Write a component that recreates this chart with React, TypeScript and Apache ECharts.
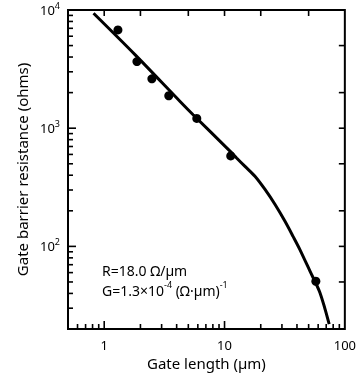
import React, { useEffect, useRef } from 'react';
import * as echarts from 'echarts';

// Fitted curve
const curveX = [0.815, 1.81, 4.27, 5.48, 11.1, 12.6, 14.8, 17.9, 21.7, 26.3, 31.8, 37.2, 42.3, 51.2, 62.0, 74.1];
const curveY = [9380, 4170, 1683, 1300, 640, 560, 475, 392, 303, 226, 163, 121, 94, 62, 40.7, 22.0];

// Measured points
const pointX = [1.30, 1.87, 2.49, 3.44, 5.88, 11.26, 57.4];
const pointY = [6780, 3663, 2617, 1881, 1209, 583, 50.7];

// Axis ranges
const xRange = [0.5, 100];
const yRange = [20, 10000];

// Tick values
const xMajorTicks = [1, 10];
const xMinorTicks = [0.6, 0.7, 0.8, 0.9, 2, 3, 4, 5, 6, 7, 8, 9, 20, 30, 40, 50, 60, 70, 80, 90];
const xTopTicks = [1, 2, 5, 10, 20, 50];
const yMajorTicks = [100, 1000];
const yMinorTicks = [30, 40, 50, 60, 70, 80, 90, 200, 300, 400, 500, 600, 700, 800, 900, 2000, 3000, 4000, 5000, 6000, 7000, 8000, 9000];
const yRightTicks = [50, 100, 200, 500, 1000, 2000, 5000];

// Texts
const xTitle = 'Gate length (\u00b5m)';
const yTitle = 'Gate barrier resistance (ohms)';
const noteR = 'R=18.0 \u03a9/\u00b5m';
const noteG = 'G=1.3\u00d710{s|-4} (\u03a9\u00b7\u00b5m){s|-1}';

const FONT = '"Noto Sans", "DejaVu Sans", sans-serif';

function isPow10(v: number) {
  const l = Math.log10(v);
  return Math.abs(l - Math.round(l)) < 1e-6;
}

function makeNotes(): any[] {
  return [
    {
      type: 'text', id: 'noteR', left: 102, top: 263,
      style: { text: noteR, fill: '#000', fontSize: 14, fontFamily: FONT },
    },
    {
      type: 'text', id: 'noteG', left: 102, top: 280,
      style: {
        text: noteG, fill: '#000', fontSize: 14, fontFamily: FONT, lineHeight: 20,
        rich: { s: { fontSize: 9, verticalAlign: 'top', lineHeight: 9, fill: '#000', fontFamily: FONT } },
      },
    },
  ];
}

export default function App() {
  const ref = useRef<HTMLDivElement>(null);
  useEffect(() => {
    const chart = echarts.init(ref.current!, null, { renderer: 'svg' });
    const [xMin, xMax] = xRange;
    const [yMin, yMax] = yRange;
    // [x, y, dx, dy] : anchor in data space and pixel direction/length
    const tickData: number[][] = [
      ...xMajorTicks.map((v) => [v, yMin, 0, -8]),
      ...xMinorTicks.map((v) => [v, yMin, 0, -5]),
      ...xTopTicks.map((v) => [v, yMax, 0, 6]),
      ...yMajorTicks.map((v) => [xMin, v, 8, 0]),
      ...yMinorTicks.map((v) => [xMin, v, 5, 0]),
      ...yRightTicks.map((v) => [xMax, v, -6, 0]),
    ];
    const option: any = {
      animation: false,
      textStyle: { fontFamily: FONT },
      grid: {
        left: 68, right: 14, top: 10, bottom: 48,
        show: true, borderColor: '#000', borderWidth: 2, backgroundColor: 'transparent',
      },
      xAxis: {
        type: 'log', logBase: 10, min: xMin, max: xMax,
        axisLine: { show: false },
        axisTick: { show: false },
        splitLine: { show: false },
        axisLabel: {
          color: '#000', fontSize: 13, margin: 9, fontFamily: FONT,
          formatter: (v: number) => (isPow10(v) ? String(Math.round(v)) : ''),
        },
        name: xTitle, nameLocation: 'middle', nameGap: 24,
        nameTextStyle: { color: '#000', fontSize: 15, fontFamily: FONT },
      },
      yAxis: {
        type: 'log', logBase: 10, min: yMin, max: yMax,
        axisLine: { show: false },
        axisTick: { show: false },
        splitLine: { show: false },
        axisLabel: {
          color: '#000', fontSize: 13, margin: 8, fontFamily: FONT, lineHeight: 19,
          formatter: (v: number) =>
            isPow10(v) ? '10{s|' + Math.round(Math.log10(v)) + '}' : '',
          rich: { s: { fontSize: 9, verticalAlign: 'top', lineHeight: 9, color: '#000', fontFamily: FONT } },
        },
        name: yTitle, nameLocation: 'middle', nameGap: 37,
        nameTextStyle: { color: '#000', fontSize: 15, fontFamily: FONT },
      },
      series: [
        {
          type: 'line',
          data: curveX.map((x, i) => [x, curveY[i]]),
          showSymbol: false,
          smooth: 0.3,
          lineStyle: { color: '#000', width: 3 },
          silent: true,
        },
        {
          type: 'scatter',
          data: pointX.map((x, i) => [x, pointY[i]]),
          symbolSize: 9,
          itemStyle: { color: '#000', opacity: 1 },
          silent: true,
        },
      ],
    };
    chart.setOption(option);
    // Tick marks placed through the chart's own log scales
    const ticks: any[] = [];
    tickData.forEach((t, i) => {
      try {
        const p: any = chart.convertToPixel({ xAxisIndex: 0, yAxisIndex: 0 }, [t[0], t[1]]);
        if (!p) return;
        const x0 = Number(p[0]);
        const y0 = Number(p[1]);
        if (!isFinite(x0) || !isFinite(y0)) return;
        ticks.push({
          type: 'line',
          id: 'tick' + i,
          shape: { x1: x0, y1: y0, x2: x0 + t[2], y2: y0 + t[3] },
          style: { stroke: '#000', lineWidth: 1.6 },
        });
      } catch (e) {
        // skip tick
      }
    });
    chart.setOption({ graphic: [...makeNotes(), ...ticks] });
    return () => chart.dispose();
  }, []);
  return (
    <div
      ref={ref}
      style={{ position: 'fixed', left: 0, top: 0, width: 359, height: 377 }}
    />
  );
}
